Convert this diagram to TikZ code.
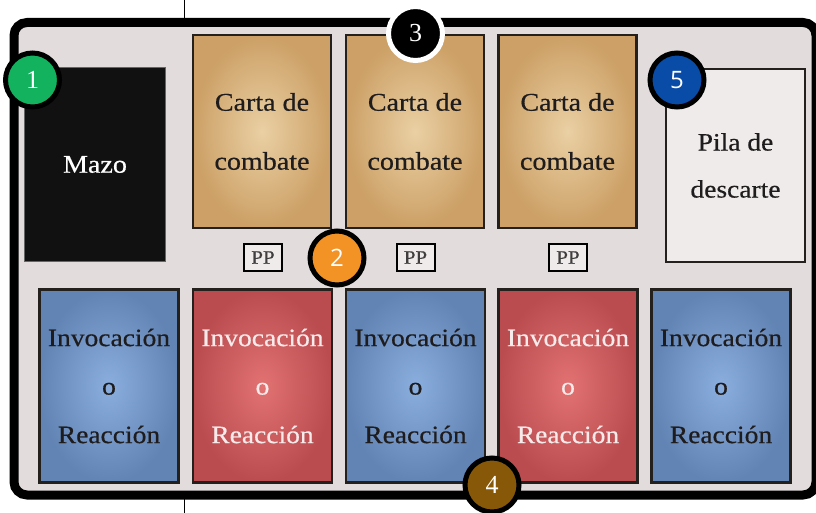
\documentclass[tikz,border=0pt]{standalone}
\usepackage{fontspec}
\setmainfont{Liberation Serif}[FakeStretch=1.1, FakeBold=0.5]
\newfontfamily\numsans{Open Sans}
\newfontfamily\numserif{Liberation Serif}
\definecolor{board}{RGB}{227,220,221}
\definecolor{mazo}{RGB}{17,17,17}
\definecolor{parchIn}{RGB}{234,208,164}
\definecolor{parchOut}{RGB}{204,160,102}
\definecolor{blueIn}{RGB}{138,174,222}
\definecolor{blueOut}{RGB}{98,132,180}
\definecolor{redIn}{RGB}{226,114,114}
\definecolor{redOut}{RGB}{186,76,80}
\definecolor{pila}{RGB}{239,235,235}
\definecolor{cardedge}{RGB}{35,32,30}
\definecolor{ngreen}{RGB}{18,178,94}
\definecolor{norange}{RGB}{243,147,37}
\definecolor{nblue}{RGB}{8,76,168}
\definecolor{nbrown}{RGB}{135,88,8}
\definecolor{txt}{RGB}{30,28,28}
\definecolor{redtxt}{RGB}{247,234,234}
\begin{document}
\begin{tikzpicture}[x=1pt,y=-1pt,
  cardbase/.style={draw=cardedge, line width=2.5pt, minimum width=138pt, minimum height=193pt, inner sep=0pt, align=center, text=txt},
  combat/.style={cardbase, inner color=parchIn, outer color=parchOut, font=\fontsize{25.5}{59}\selectfont},
  bluecard/.style={cardbase, minimum width=139pt, inner color=blueIn, outer color=blueOut, font=\fontsize{25}{48.5}\selectfont},
  redcard/.style={cardbase, minimum width=139pt, inner color=redIn, outer color=redOut, text=redtxt, font=\fontsize{25}{48.5}\selectfont},
  pptag/.style={draw=black, line width=2pt, fill=pila, minimum width=38pt, minimum height=27pt, inner sep=0pt, text=txt!85, font=\fontsize{19}{19}\selectfont},
  numdisc/.style={circle, draw=black, line width=5pt, minimum size=54pt, inner sep=0pt, text=white, font=\numserif\fontsize{26}{26}\selectfont}
]
\useasboundingbox (0,0) rectangle (816,513);
% vertical guide line
\coordinate (vt0) at (184.5,0);
\coordinate (vt1) at (184.5,18);
\coordinate (vb0) at (184.5,499);
\coordinate (vb1) at (184.5,513);
\draw[line width=1.5pt] (vt0) -- (vt1);
\draw[line width=1.5pt] (vb0) -- (vb1);
% board
\draw[line width=9pt, fill=board, rounded corners=13pt] (14,22.5) rectangle (816,495);
% deck
\node[draw=black!60, line width=1pt, fill=mazo, minimum width=141pt, minimum height=194pt, text=white, font=\fontsize{25.5}{25.5}\selectfont] (mazo) at (95,164.5) {Mazo};
% combat cards
\node[combat] (c1) at (262,131.5) {Carta de\\combate};
\node[combat] (c2) at (415,131.5) {Carta de\\combate};
\node[combat] (c3) at (567.5,131.5) {Carta de\\combate};
% discard
\node[draw=cardedge, line width=2pt, fill=pila, minimum width=139pt, minimum height=193pt, align=center, text=txt, font=\fontsize{25}{47}\selectfont] (pila) at (735.5,165.5) {Pila de\\descarte};
% PP tags
\node[pptag] (pp1) at (263,257.5) {PP};
\node[pptag] (pp2) at (415.5,257.5) {PP};
\node[pptag] (pp3) at (568,257.5) {PP};
% bottom cards
\node[bluecard] (b1) at (109,386) {Invocación\\o\\Reacción};
\node[redcard] (b2) at (262.5,386) {Invocación\\o\\Reacción};
\node[bluecard] (b3) at (415.5,386) {Invocación\\o\\Reacción};
\node[redcard] (b4) at (568,386) {Invocación\\o\\Reacción};
\node[bluecard] (b5) at (721,386) {Invocación\\o\\Reacción};
% numbered discs
\node[numdisc, fill=ngreen] (n1) at (32.5,80) {1};
\node[numdisc, fill=norange, font=\numsans\fontsize{24}{24}\selectfont] (n2) at (337,258) {2};
\node[numdisc, fill=black, draw=white] (n3) at (415.5,33.5) {3};
\node[numdisc, fill=nbrown] (n4) at (492,485) {4};
\node[numdisc, fill=nblue, font=\numsans\fontsize{24}{24}\selectfont] (n5) at (677,80) {5};
\end{tikzpicture}
\end{document}
